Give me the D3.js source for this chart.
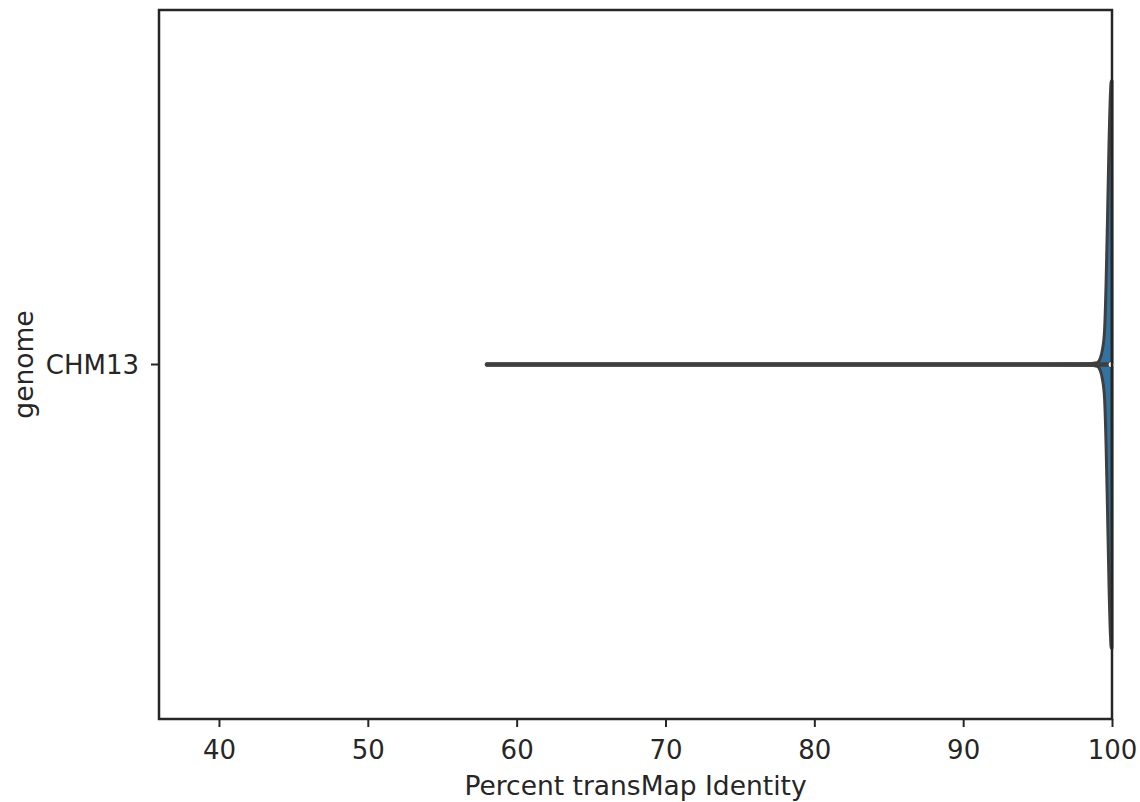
<!DOCTYPE html>
<html><head><meta charset="utf-8">
<script src="https://cdn.jsdelivr.net/npm/d3@7"></script>
<style>body{margin:0;background:#fff}svg{display:block}text{font-family:"DejaVu Sans",sans-serif;fill:#262626}</style>
</head><body>
<script>
// data
const categories = ["CHM13"];
const xTicks = [40, 50, 60, 70, 80, 90, 100];
const xDomain = [35.97, 100];
// violin density profile (relative)
const densityValues = [58, 70, 85, 95, 98.5, 99.0, 99.2, 99.35, 99.5, 99.6, 99.7, 99.8, 99.9, 99.95, 100];
const densityHeights = [0.002, 0.002, 0.002, 0.002, 0.003, 0.006, 0.02, 0.05, 0.12, 0.28, 0.52, 0.78, 0.96, 1.0, 1.0];
const whiskerLow = [58];
const whiskerHigh = [100];
const quartiles = [99.85, 100];
const medians = [99.95];

const W = 1140, H = 802;
const margin = {left: 159, right: 28, top: 10, bottom: 83};
const svg = d3.select("body").append("svg").attr("width", W).attr("height", H);
const x = d3.scaleLinear().domain(xDomain).range([margin.left, W - margin.right]);
const y = d3.scaleBand().domain(categories).range([margin.top, H - margin.bottom]);
const halfW = y.bandwidth() * 0.8 / 2;
const dScale = d3.scaleLinear().domain([0, d3.max(densityHeights)]).range([0, halfW]);

const pts = densityValues.map((v, i) => [v, densityHeights[i]]);
categories.forEach(c => {
  const cy = y(c) + y.bandwidth() / 2;
  const area = d3.area().x(d => x(d[0])).y0(d => cy - dScale(d[1])).y1(d => cy + dScale(d[1])).curve(d3.curveMonotoneX);
  svg.append("path").attr("d", area(pts)).attr("fill", "#3274a1").attr("stroke", "#3f3f3f").attr("stroke-width", 3).attr("stroke-linejoin", "round");
  svg.append("line").attr("x1", x(whiskerLow[0])).attr("x2", x(whiskerHigh[0])).attr("y1", cy).attr("y2", cy)
    .attr("stroke", "#3f3f3f").attr("stroke-width", 4.5).attr("stroke-linecap", "round");
  svg.append("line").attr("x1", x(quartiles[0])).attr("x2", x(quartiles[1])).attr("y1", cy).attr("y2", cy)
    .attr("stroke", "#3f3f3f").attr("stroke-width", 6);
  svg.append("circle").attr("cx", x(medians[0])).attr("cy", cy).attr("r", 2.6).attr("fill", "#fff");
});

// frame
svg.append("rect").attr("x", margin.left).attr("y", margin.top)
  .attr("width", W - margin.left - margin.right).attr("height", H - margin.top - margin.bottom)
  .attr("fill", "none").attr("stroke", "#262626").attr("stroke-width", 2.5);

const xAxis = svg.append("g").attr("transform", `translate(0,${H - margin.bottom})`)
  .call(d3.axisBottom(x).tickValues(xTicks).tickFormat(d3.format("d")).tickSize(8).tickPadding(14));
xAxis.select(".domain").remove();
xAxis.selectAll("line").attr("stroke", "#262626").attr("stroke-width", 2);
xAxis.selectAll("text").attr("font-size", 26).attr("fill", "#262626");

const yAxis = svg.append("g").attr("transform", `translate(${margin.left},0)`)
  .call(d3.axisLeft(y).tickSize(8).tickPadding(12));
yAxis.select(".domain").remove();
yAxis.selectAll("line").attr("stroke", "#262626").attr("stroke-width", 2);
yAxis.selectAll("text").attr("font-size", 26).attr("fill", "#262626").attr("dy", "0.36em");

svg.append("text").attr("x", (margin.left + W - margin.right) / 2).attr("y", 795)
  .attr("text-anchor", "middle").attr("font-size", 26.5).text("Percent transMap Identity");
svg.append("text").attr("transform", `translate(33,${y(categories[0]) + y.bandwidth()/2}) rotate(-90)`)
  .attr("text-anchor", "middle").attr("font-size", 26.5).text("genome");
</script>
</body></html>
